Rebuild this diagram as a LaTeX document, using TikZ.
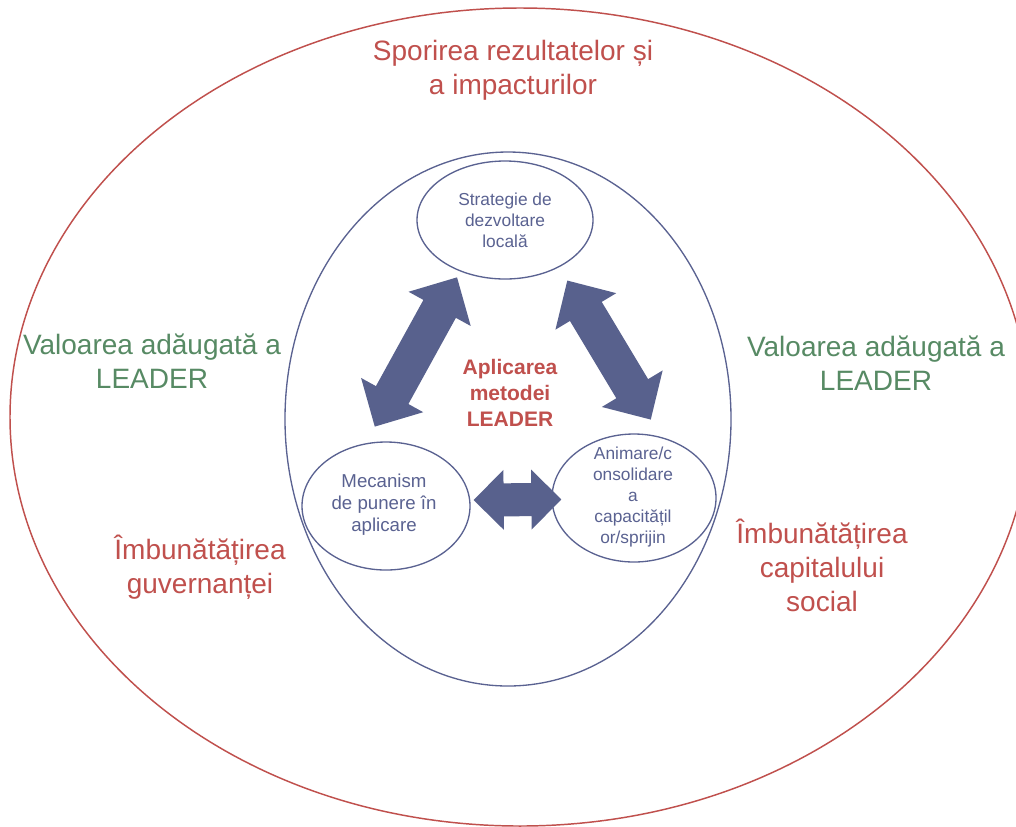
\documentclass[tikz,border=0pt]{standalone}
\usepackage{fontspec}
\setmainfont{Liberation Sans}
\usetikzlibrary{calc,shapes.geometric}
\definecolor{ored}{RGB}{192,80,77}
\definecolor{ogreen}{RGB}{87,138,100}
\definecolor{eblue}{RGB}{90,98,145}
\definecolor{ablue}{RGB}{88,97,141}
\begin{document}
\begin{tikzpicture}[x=0.75pt,y=-0.75pt,
  outerell/.style={ellipse, draw=ored, line width=1.1pt, inner sep=0pt},
  innerell/.style={ellipse, draw=eblue, line width=1pt, inner sep=0pt},
  smallell/.style={ellipse, draw=eblue, line width=1pt, inner sep=0pt, fill=white},
  bigtext/.style={align=center, inner sep=0pt, font=\fontsize{21}{25.5}\selectfont},
  redtext/.style={bigtext, text=ored},
  greentext/.style={bigtext, text=ogreen},
  midtext/.style={align=center, inner sep=0pt, text=ored, font=\bfseries\fontsize{15.75}{19.5}\selectfont},
  smalltext/.style={align=center, inner sep=0pt, text=eblue, font=\fontsize{13}{15.75}\selectfont},
  fatdbl/.style n args={3}{fill=ablue, to path={
    ($(\tikztostart)!#3!(\tikztotarget)$) coordinate (qa)
    ($(\tikztotarget)!#3!(\tikztostart)$) coordinate (qb)
    (\tikztostart) -- ($(qa)!#2!90:(\tikztotarget)$) -- ($(qa)!#1!90:(\tikztotarget)$)
    -- ($(qb)!#1!-90:(\tikztostart)$) -- ($(qb)!#2!-90:(\tikztostart)$)
    -- (\tikztotarget)
    -- ($(qb)!#2!90:(\tikztostart)$) -- ($(qb)!#1!90:(\tikztostart)$)
    -- ($(qa)!#1!-90:(\tikztotarget)$) -- ($(qa)!#2!-90:(\tikztotarget)$) -- cycle}},
  diagarrow/.style={fatdbl={13.9pt}{26.6pt}{27pt}},
  horarrow/.style={fatdbl={12.4pt}{22.5pt}{22.5pt}}
]
\useasboundingbox (0,0) rectangle (1016,826);
\clip (0,0) rectangle (1016,826);
\fill[white] (0,0) rectangle (1016,826);
\node[outerell, minimum width=765pt, minimum height=613.5pt] (outer) at (520,417) {};
\node[innerell, minimum width=334.5pt, minimum height=400.5pt] (inner) at (508,419) {};
\node[smallell, minimum width=132pt, minimum height=88.5pt] (top) at (505,220) {};
\node[smallell, minimum width=126pt, minimum height=96pt] (left) at (386,506) {};
\node[smallell, minimum width=123pt, minimum height=96pt] (right) at (634,498) {};

\node[smalltext] (toptext) at (505,220) {Strategie de\\dezvoltare\\locală};
\node[smalltext, font=\fontsize{14}{16.5}\selectfont] (lefttext) at (384,505) {Mecanism\\de punere în\\aplicare};
\node[smalltext] (righttext) at (633,497) {Animare/c\\onsolidare\\a\\capacitățil\\or/sprijin};

\node[midtext] (mid) at (510,393) {Aplicarea\\metodei\\LEADER};

\node[redtext] (spor) at (513,70) {Sporirea rezultatelor și\\a impacturilor};
\node[greentext] (valL) at (152,361) {Valoarea adăugată a\\LEADER};
\node[greentext] (valR) at (876,363) {Valoarea adăugată a\\LEADER};
\node[redtext] (guv) at (200,567) {Îmbunătățirea\\guvernanței};
\node[redtext] (cap) at (822,565) {Îmbunătățirea\\capitalului\\social};

% arrow tips, just off the ellipse borders
\coordinate (tA) at ($(top.229.4)!5pt!(left.108)$);
\coordinate (tB) at ($(left.108)!14.25pt!(top.229.4)$);
\coordinate (tC) at ($(top.319.2)!11.7pt!(right.66.4)$);
\coordinate (tD) at ($(right.66.4)!15.2pt!(top.319.2)$);
\coordinate (tE) at ($(left.4.1)!2.5pt!(right.181.4)$);
\coordinate (tF) at ($(right.181.4)!-7.5pt!(left.4.1)$);

\path[diagarrow] (tA) to (tB);
\path[diagarrow] (tC) to (tD);
\path[horarrow] (tE) to (tF);
\end{tikzpicture}
\end{document}
